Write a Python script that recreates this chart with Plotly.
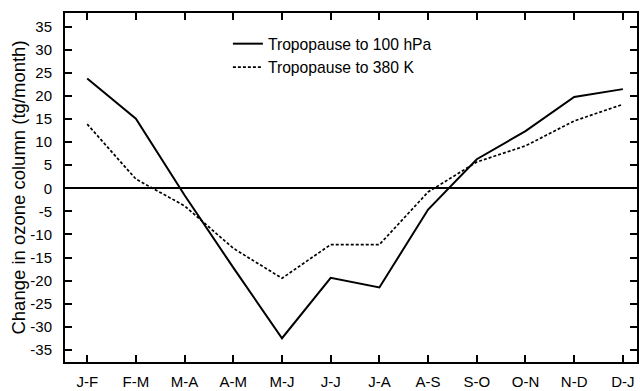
import plotly.graph_objects as go

periods = ["J-F", "F-M", "M-A", "A-M", "M-J", "J-J", "J-A", "A-S", "S-O", "O-N", "N-D", "D-J"]
hpa100 = [23.8, 15.1, -1.5, -17.2, -32.5, -19.4, -21.5, -4.6, 6.3, 12.4, 19.8, 21.5]
k380 = [13.9, 2.0, -3.8, -13.0, -19.5, -12.2, -12.2, -0.8, 5.7, 9.2, 14.6, 18.2]
yticks = [35, 30, 25, 20, 15, 10, 5, 0, -5, -10, -15, -20, -25, -30, -35]

fig = go.Figure()
fig.add_trace(go.Scatter(x=periods, y=hpa100, mode="lines", name="Tropopause to 100 hPa",
                         line=dict(color="black", width=2)))
fig.add_trace(go.Scatter(x=periods, y=k380, mode="lines", name="Tropopause to 380 K",
                         line=dict(color="black", width=1.7, dash="3px,2px")))

font = dict(family="Liberation Sans, Arial, sans-serif", size=15, color="black")
fig.update_layout(
    width=640, height=391,
    margin=dict(l=65, r=1, t=13, b=27),
    paper_bgcolor="white", plot_bgcolor="white",
    font=font,
    showlegend=True,
    legend=dict(x=0.2848, y=0.96, xanchor="left", yanchor="top", bgcolor="rgba(0,0,0,0)",
                font=dict(size=15.7), tracegroupgap=0, itemwidth=30),
)
fig.update_xaxes(type="category", range=[-0.456, 11.29], showline=True, linecolor="black", linewidth=2,
                 mirror="ticks", ticks="inside", ticklen=7, tickwidth=1.5, tickcolor="black",
                 showgrid=False, zeroline=False, tickfont=dict(size=15), ticklabelstandoff=5)
fig.update_yaxes(range=[-37.65, 38.0], tickvals=yticks, ticktext=[str(v) for v in yticks],
                 showline=True, linecolor="black", linewidth=2, mirror="ticks", ticks="inside",
                 ticklen=7, tickwidth=1.5, tickcolor="black", showgrid=False,
                 zeroline=True, zerolinecolor="black", zerolinewidth=2,
                 title=dict(text="Change in ozone column (tg/month)", standoff=0, font=dict(size=18.5)),
                 tickfont=dict(size=15), ticklabelstandoff=8)
fig.write_html("out.html")
